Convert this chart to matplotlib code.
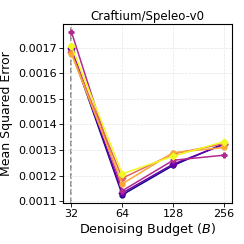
import numpy as np
import matplotlib
matplotlib.use('Agg')
import matplotlib.pyplot as plt

budgets = [32, 64, 128, 256]
series_pos = [0.0, 0.2, 0.4, 0.6, 0.8, 1.0]
mse = [
    [0.001690, 0.001125, 0.001240, 0.001325],
    [0.001700, 0.001132, 0.001245, 0.001322],
    [0.001762, 0.001141, 0.001260, 0.001280],
    [0.001682, 0.001190, 0.001285, 0.001325],
    [0.001676, 0.001168, 0.001290, 0.001310],
    [0.001706, 0.001207, 0.001276, 0.001333],
]
markers = ['o', 'D', 'P', 'D', 'o', 'D']

fig = plt.figure(figsize=(2.44, 2.44), dpi=100)
ax = fig.add_axes([0.260, 0.168, 0.691, 0.734])

cmap = plt.get_cmap('plasma')
for p, vals, m in zip(series_pos, mse, markers):
    ax.plot(budgets, vals, color=cmap(p), marker=m, markersize=3.5, lw=1.1)

ax.axvline(32, color='#777777', ls='--', lw=1.1, zorder=0)

ax.set_xscale('log', base=2)
ax.set_xticks(budgets)
ax.set_xticklabels([str(b) for b in budgets])
ax.minorticks_off()
ax.set_xlim(32 * 2**(-8/51), 256 * 2**(8/51))
ax.set_ylim(0.001093, 0.001793)
ax.set_yticks([0.0011, 0.0012, 0.0013, 0.0014, 0.0015, 0.0016, 0.0017])
ax.set_yticklabels(['0.0011', '0.0012', '0.0013', '0.0014', '0.0015', '0.0016', '0.0017'])
ax.grid(True, ls='--', lw=0.5, color='#e6e6e6')
ax.tick_params(labelsize=8, length=3, width=0.6, pad=1.5)
for s in ax.spines.values():
    s.set_linewidth(0.8)

ax.set_title('Craftium/Speleo-v0', fontsize=8.5, pad=3)
ax.set_xlabel('Denoising Budget ($B$)', fontsize=9.2, labelpad=1)
ax.set_ylabel('Mean Squared Error', fontsize=9, labelpad=4)

fig.savefig('out.png', dpi=100)
